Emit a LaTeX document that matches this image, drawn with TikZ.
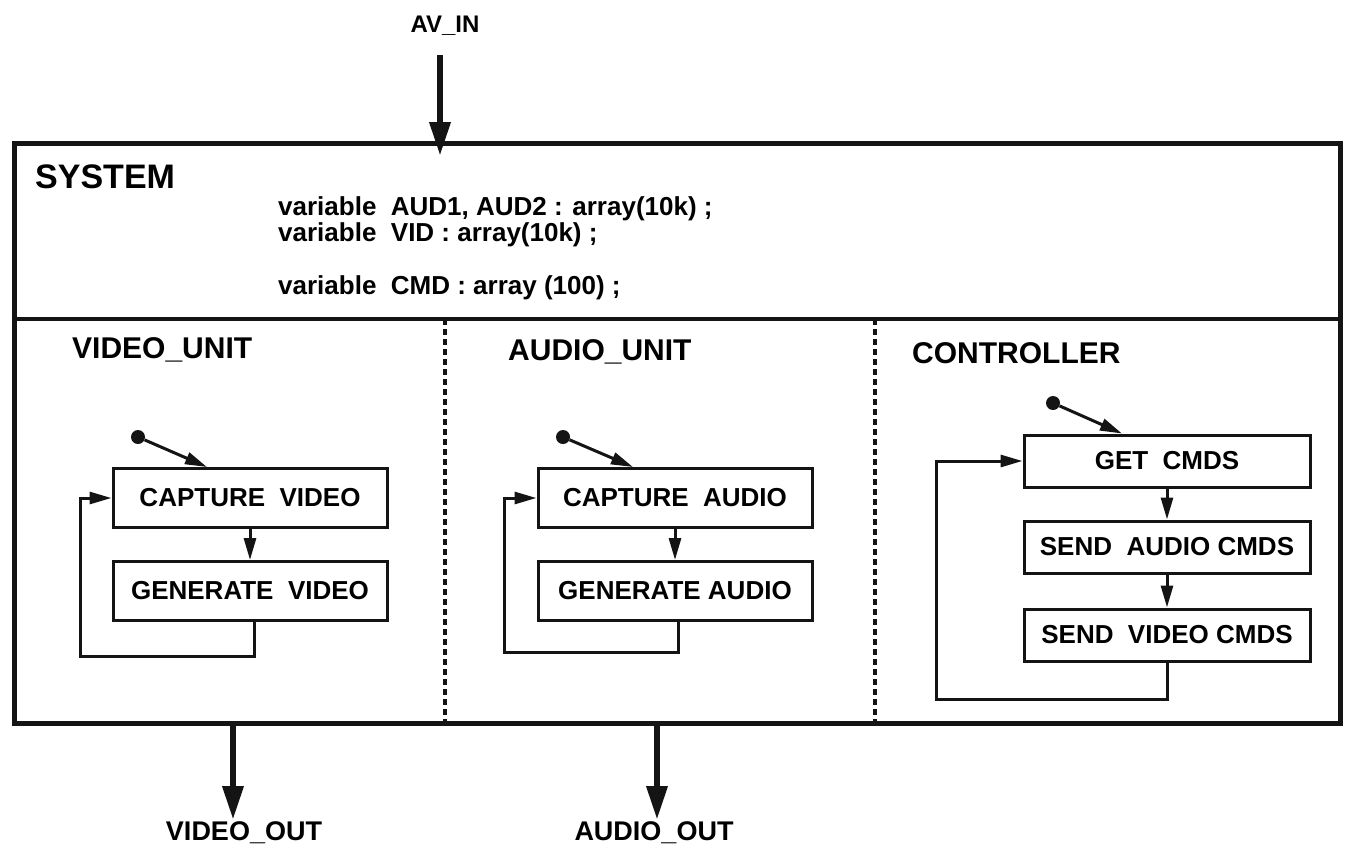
\documentclass[tikz,border=0pt]{standalone}
\usepackage{fontspec}
\setmainfont{Liberation Sans}
\usepackage{tikz}
\usetikzlibrary{shapes,arrows.meta,positioning,calc}
\definecolor{ink}{RGB}{20,20,20}

\tikzset{
    stepbox/.style={draw=ink, line width=3pt, minimum width=274pt, minimum height=59pt,
        inner sep=0pt, font=\fontsize{26}{28}\selectfont\bfseries},
    cmdbox/.style={stepbox, minimum width=286pt, minimum height=52pt},
    flow/.style={draw=ink, line width=3pt, -{Triangle[length=22pt,width=12pt]}},
    port/.style={draw=ink, line width=6.5pt, -{Triangle[length=34pt,width=20pt]}},
    startdot/.style={circle, fill=ink, minimum size=14pt, inner sep=0pt},
    unitname/.style={anchor=base west, inner sep=0pt, font=\fontsize{30}{32}\selectfont\bfseries},
    decl/.style={anchor=base west, inner sep=0pt, font=\fontsize{26}{28}\selectfont\bfseries},
    portname/.style={inner sep=0pt, anchor=base, font=\fontsize{27}{29}\selectfont\bfseries},
    divider/.style={draw=ink, line width=4pt, dash pattern=on 6pt off 4pt}
}

\begin{document}
\begin{tikzpicture}[x=1pt, y=-1pt]
    \useasboundingbox (0,0) rectangle (1349,849);

    % system frame
    \node[draw=ink, line width=5pt, minimum width=1326pt, minimum height=580pt,
        inner sep=0pt] (sys) at (677,433) {};
    \draw[draw=ink, line width=4.5pt] (sys.west |- 0,319) -- (sys.east |- 0,319);
    \draw[divider] (445,319) -- (445,723);
    \draw[divider] (875,319) -- (875,723);

    \node[unitname, font=\fontsize{34}{36}\selectfont\bfseries] (sysname) at (35,188) {SYSTEM};
    \node[decl] (d1) at (278,215) {variable\ \ AUD1, AUD2 : array(10k) ;};
    \node[decl] (d2) at (278,241) {variable\ \ VID : array(10k) ;};
    \node[decl] (d3) at (278,294) {variable\ \ CMD : array (100) ;};

    % ports
    \node[portname, font=\fontsize{24}{26}\selectfont\bfseries] (avin) at (445,32) {AV\_IN};
    \coordinate (avtop) at (440,55);
    \coordinate (avtip) at (440,156);
    \draw[port] (avtop) -- (avtip);

    \node[portname] (vout) at (244,840) {VIDEO\_OUT};
    \node[portname] (aout) at (654,840) {AUDIO\_OUT};
    \coordinate (vtip) at (233,820);
    \coordinate (atip) at (657,820);
    \draw[port] (sys.south -| vtip) -- (vtip);
    \draw[port] (sys.south -| atip) -- (atip);

    % video unit
    \node[unitname] (vunit) at (72,358) {VIDEO\_UNIT};
    \node[stepbox] (cvid) at (250,498) {CAPTURE\ \ VIDEO};
    \node[stepbox, below=31pt of cvid] (gvid) {GENERATE\ \ VIDEO};
    \node[startdot] (v0) at (138,437) {};
    \draw[flow] (v0) -- ([xshift=-43pt]cvid.north);
    \draw[flow] (cvid) -- (gvid);
    \draw[flow] ([xshift=4pt]gvid.south) -- ++(0,34) -| ([xshift=-31pt]cvid.west) -- (cvid.west);

    % audio unit
    \node[unitname] (aunit) at (508,360) {AUDIO\_UNIT};
    \node[stepbox] (caud) at (675,498) {CAPTURE\ \ AUDIO};
    \node[stepbox, below=31pt of caud] (gaud) {GENERATE AUDIO};
    \node[startdot] (a0) at (563,437) {};
    \draw[flow] (a0) -- ([xshift=-42pt]caud.north);
    \draw[flow] (caud) -- (gaud);
    \draw[flow] ([xshift=3pt]gaud.south) -- ++(0,30) -| ([xshift=-32pt]caud.west) -- (caud.west);

    % controller
    \node[unitname] (cunit) at (912,363) {CONTROLLER};
    \node[cmdbox] (getc) at (1167,461) {GET\ \ CMDS};
    \node[cmdbox, below=31pt of getc] (sendaud) {SEND\ \ AUDIO CMDS};
    \node[cmdbox, below=33pt of sendaud] (sendvid) {SEND\ \ VIDEO CMDS};
    \node[startdot] (c0) at (1053,403) {};
    \draw[flow] (c0) -- ([xshift=-45pt]getc.north);
    \draw[flow] (getc) -- (sendaud);
    \draw[flow] (sendaud) -- (sendvid);
    \draw[flow] (sendvid.south) -- ++(0,37) -| ([xshift=-86pt]getc.west) -- (getc.west);
\end{tikzpicture}
\end{document}
